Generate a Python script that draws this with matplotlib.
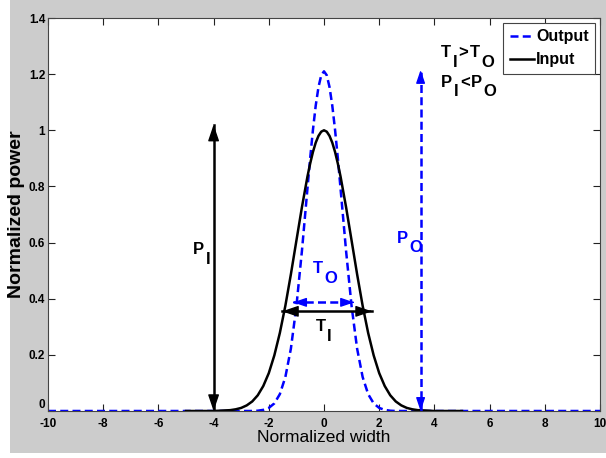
import numpy as np
import matplotlib
matplotlib.use('Agg')
import matplotlib.pyplot as plt
from matplotlib import font_manager
from matplotlib.patches import Rectangle

# pulse shapes
x_input = [-5.0, -4.8, -4.6, -4.4, -4.2, -4.0, -3.8, -3.6, -3.4, -3.2,
           -3.0, -2.8, -2.6, -2.4, -2.2, -2.0, -1.8, -1.6, -1.4, -1.2,
           -1.0, -0.8, -0.6, -0.5, -0.4, -0.3, -0.2, -0.1, 0.0,
           0.1, 0.2, 0.3, 0.4, 0.5, 0.6, 0.8, 1.0,
           1.2, 1.4, 1.6, 1.8, 2.0, 2.2, 2.4, 2.6, 2.8, 3.0,
           3.2, 3.4, 3.6, 3.8, 4.0, 4.2, 4.4, 4.6, 4.8, 5.0]
y_input = [0.0, 0.0, 0.0, 0.0, 0.0, 0.0, 0.001, 0.002, 0.003, 0.006,
           0.011, 0.020, 0.034, 0.056, 0.089, 0.135, 0.198, 0.278, 0.375, 0.487,
           0.607, 0.726, 0.835, 0.882, 0.923, 0.956, 0.980, 0.995, 1.000,
           0.995, 0.980, 0.956, 0.923, 0.882, 0.835, 0.726, 0.607,
           0.487, 0.375, 0.278, 0.198, 0.135, 0.089, 0.056, 0.034, 0.020, 0.011,
           0.006, 0.003, 0.002, 0.001, 0.0, 0.0, 0.0, 0.0, 0.0, 0.0]

x_output = [-10.0, -3.0, -2.8, -2.6, -2.4, -2.2, -2.0, -1.8, -1.6, -1.4, -1.2,
            -1.0, -0.8, -0.6, -0.5, -0.4, -0.3, -0.2, -0.1, 0.0,
            0.1, 0.2, 0.3, 0.4, 0.5, 0.6, 0.8, 1.0,
            1.2, 1.4, 1.6, 1.8, 2.0, 2.2, 2.4, 2.6, 2.8, 3.0, 10.0]
y_output = [0.0, 0.0, 0.0, 0.0, 0.001, 0.004, 0.011, 0.027, 0.060, 0.121, 0.222,
            0.373, 0.570, 0.792, 0.902, 1.002, 1.088, 1.154, 1.196, 1.210,
            1.196, 1.154, 1.088, 1.002, 0.902, 0.792, 0.570, 0.373,
            0.222, 0.121, 0.060, 0.027, 0.011, 0.004, 0.001, 0.0, 0.0, 0.0, 0.0]

x_ticks = [-10, -8, -6, -4, -2, 0, 2, 4, 6, 8, 10]
y_ticks = [0, 0.2, 0.4, 0.6, 0.8, 1.0, 1.2, 1.4]
y_ticklabels = ['0', '0.2', '0.4', '0.6', '0.8', '1', '1.2', '1.4']

names = {f.name for f in font_manager.fontManager.ttflist}
font = 'Liberation Sans' if 'Liberation Sans' in names else 'DejaVu Sans'

blue = '#0000ff'
dash = (0, (3.2, 1.7))

fig = plt.figure(figsize=(6.06, 4.58), dpi=100, facecolor='white')
fig.patches.append(Rectangle((10 / 606, 5 / 458), 1, 1, transform=fig.transFigure,
                             facecolor='#cccccc', edgecolor='none', zorder=-10))
ax = fig.add_axes([48 / 606, 47 / 458, 552 / 606, 393 / 458])

ax.plot(x_output, y_output, color=blue, linestyle=dash, lw=1.8, label='Output')
ax.plot(x_input, y_input, color='black', lw=1.8, label='Input')

ax.set_xlim(-10, 10)
ax.set_ylim(0, 1.4)
ax.set_xticks(x_ticks)
ax.set_xticklabels([str(t) for t in x_ticks])
ax.set_yticks(y_ticks)
ax.set_yticklabels(y_ticklabels)
ax.tick_params(direction='in', top=True, right=True, length=5, width=0.8,
               labelsize=8.5, colors='#222222')
ax.tick_params(axis='x', pad=5)
ax.tick_params(axis='y', pad=2)
for lab in ax.get_xticklabels() + ax.get_yticklabels():
    lab.set_family(font)
    lab.set_weight('bold')
    lab.set_color('black')
ax.get_yticklabels()[0].set_va('bottom')
for s in ax.spines.values():
    s.set_color('#444444')
    s.set_linewidth(0.8)

ax.set_xlabel('Normalized width', family=font, fontsize=12.5, labelpad=0)
ax.set_ylabel('Normalized power', family=font, weight='bold', fontsize=14, labelpad=3)


def double_arrow(x0, y0, x1, y1, color, ls, size=20):
    ax.plot([x0, x1], [y0, y1], color=color, linestyle=ls, lw=1.8)
    head = dict(arrowstyle='-|>,head_length=0.5,head_width=0.17', color=color,
                lw=1.0, shrinkA=0, shrinkB=0, mutation_scale=size)
    dx, dy = (x1 - x0) * 0.02, (y1 - y0) * 0.02
    ax.annotate('', xy=(x1, y1), xytext=(x1 - dx, y1 - dy), arrowprops=head)
    ax.annotate('', xy=(x0, y0), xytext=(x0 + dx, y0 + dy), arrowprops=head)


double_arrow(-4.0, 0.0, -4.0, 1.02, 'black', '-')
double_arrow(3.5, 0.0, 3.5, 1.215, blue, dash, 16)
double_arrow(-1.12, 0.387, 1.09, 0.387, blue, dash, 16)
double_arrow(-1.52, 0.355, 1.74, 0.355, 'black', '-')


def label(x, y, parts, color='black', size=12):
    kw = dict(family=font, weight='bold', fontsize=size, color=color)
    t = ax.text(x, y, parts[0][0], ha='left', va='baseline', **kw)
    prev_sub = parts[0][1]
    for s, is_sub in parts[1:]:
        dy = 0
        if is_sub and not prev_sub:
            dy = -7
        elif prev_sub and not is_sub:
            dy = 7
        t = ax.annotate(s, xy=(1, 0), xycoords=t, xytext=(1.0, dy),
                        textcoords='offset points', ha='left', va='bottom', **kw)
        prev_sub = is_sub


label(-4.75, 0.56, [('P', False), ('I', True)])
label(2.65, 0.6, [('P', False), ('O', True)], color=blue)
label(-0.4, 0.49, [('T', False), ('O', True)], color=blue)
label(-0.3, 0.285, [('T', False), ('I', True)])
label(4.25, 1.26, [('T', False), ('I', True), ('>', False), ('T', False), ('O', True)])
label(4.25, 1.155, [('P', False), ('I', True), ('<', False), ('P', False), ('O', True)])

leg = ax.legend(loc='upper right', prop={'family': font, 'weight': 'bold', 'size': 11.5},
                handlelength=1.5, handletextpad=0.15, borderpad=0.4, labelspacing=0.5,
                borderaxespad=0.3, fancybox=False, framealpha=1, edgecolor='#444444')
leg.get_frame().set_linewidth(0.8)

fig.savefig('out.png', dpi=100, facecolor=fig.get_facecolor())
